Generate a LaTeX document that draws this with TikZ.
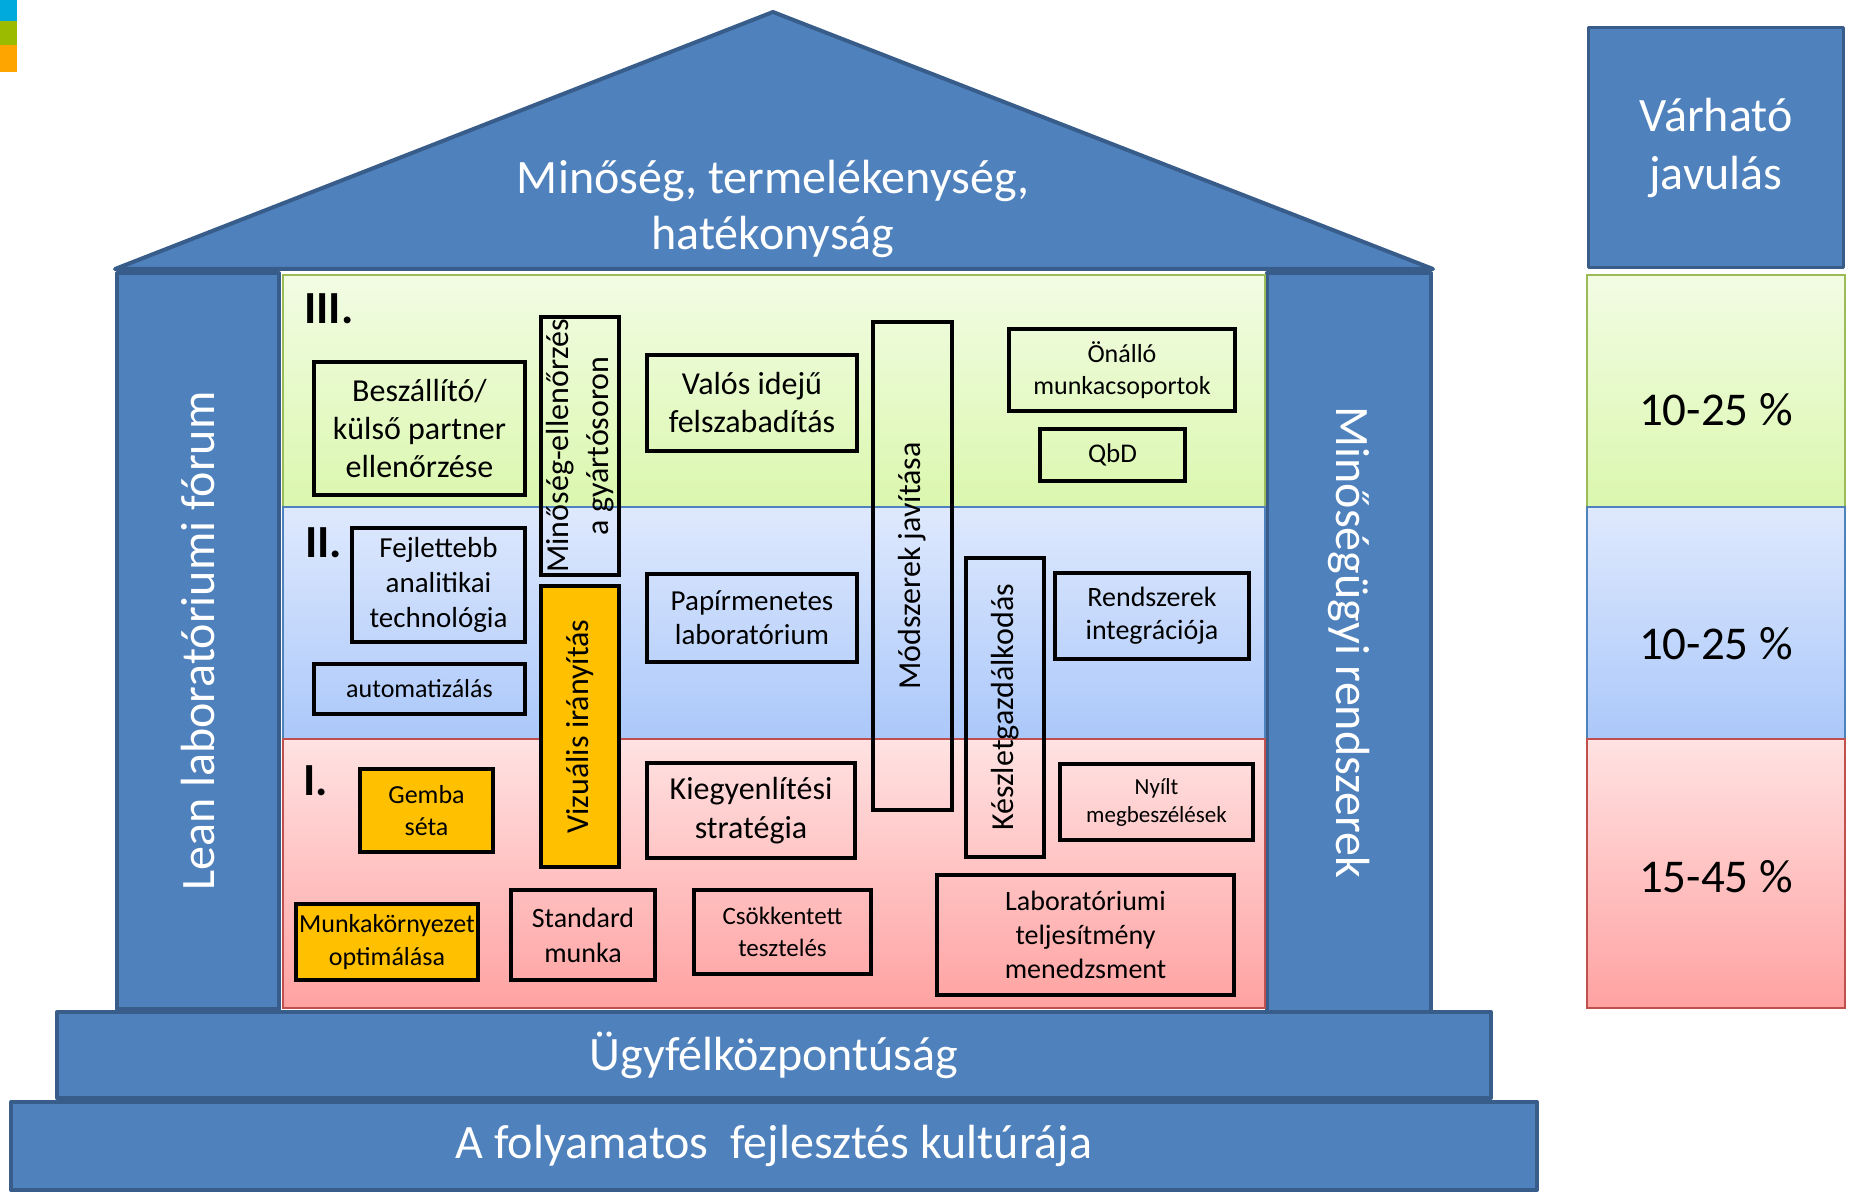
\documentclass[tikz,border=0pt]{standalone}
\usepackage{fontspec}
\setmainfont{Carlito}

\definecolor{houseblue}{HTML}{4F81BD}
\definecolor{houseedge}{HTML}{385D8A}
\definecolor{gtop}{HTML}{F2FCE4}
\definecolor{gbot}{HTML}{DBF7AE}
\definecolor{gedge}{HTML}{9BBB59}
\definecolor{btop}{HTML}{DFE9FD}
\definecolor{bbot}{HTML}{ABC8FA}
\definecolor{bedge}{HTML}{4F81BD}
\definecolor{rtop}{HTML}{FFE2E2}
\definecolor{rbot}{HTML}{FFA2A2}
\definecolor{redge}{HTML}{C0504D}
\definecolor{boxorange}{HTML}{FFC000}
\definecolor{sqblue}{HTML}{00AADD}
\definecolor{sqgreen}{HTML}{9BBB00}
\definecolor{sqorange}{HTML}{FFA500}

\newcommand{\fsz}[2]{\fontsize{#1}{#2}\selectfont}

\begin{document}
\begin{tikzpicture}[
    x=0.5pt, y=-0.5pt,
    house/.style={fill=houseblue,draw=houseedge,line width=2pt,line join=round},
    house text/.style={house,text=white,inner sep=0pt,align=center},
    green band/.style={top color=gtop,bottom color=gbot,draw=gedge,line width=0.8pt},
    blue band/.style={top color=btop,bottom color=bbot,draw=bedge,line width=0.8pt},
    red band/.style={top color=rtop,bottom color=rbot,draw=redge,line width=0.8pt},
    item/.style={draw=black,line width=2pt,inner sep=0pt,align=center},
    orange item/.style={item,fill=boxorange},
    level/.style={anchor=west,inner sep=0pt,font=\bfseries\fsz{23}{27}},
    gain/.style={inner sep=0pt,font=\fsz{23.5}{28}}
]
\useasboundingbox (0,0) rectangle (1849,1192);

% Szines negyzetek a bal felso sarokban
\fill[sqblue] (0,0) rectangle (17,21);
\fill[sqgreen] (0,21) rectangle (17,45);
\fill[sqorange] (0,45) rectangle (17,72);

% Lepcsok (alap)
\node[house text,minimum width=717pt,minimum height=43pt,font=\fsz{24}{28}]
    (ugyfel) at (774,1055) {Ügyfélközpontúság};
\node[house text,minimum width=763pt,minimum height=44pt,font=\fsz{24}{28}]
    (kultura) at (774,1146) {A folyamatos\ \ fejlesztés kultúrája};

% Oszlopok
\node[house text,rotate=90,minimum width=368pt,minimum height=81pt,font=\fsz{24}{28}]
    (leanforum) at (198,641) {Lean laboratóriumi fórum};
\node[house text,rotate=-90,minimum width=369.5pt,minimum height=82pt,font=\fsz{24}{28}]
    (minrendszer) at (1349,642.5) {Minőségügyi rendszerek};

% Teto
\draw[house] (115,269) -- (773,12) -- (1433,269) -- cycle;
\node[text=white,align=center,font=\fsz{24}{28}] (teto) at (773,209)
    {Minőség, termelékenység,\\hatékonyság};

% Szintek (savok)
\draw[green band] (283,275) rectangle (1265,507);
\draw[blue band] (283,507) rectangle (1265,739);
\draw[red band] (283,739) rectangle (1265,1008);

\node[level] (lvlIII) at (304,309) {III.};
\node[level] (lvlII) at (305,543) {II.};
\node[level] (lvlI) at (303,781) {I.};

% III. szint
\node[item,minimum width=105.5pt,minimum height=66.5pt,font=\fsz{16}{19}]
    (beszallito) at (419.5,428.5) {Beszállító/\\külső partner\\ellenőrzése};
\node[item,rotate=90,minimum width=129pt,minimum height=39pt,font=\fsz{16}{20}]
    (minell) at (580,446) {Minőség-ellenőrzés\\a gyártósoron};
\node[item,minimum width=105pt,minimum height=48pt,font=\fsz{16}{19}]
    (valos) at (752,403) {Valós idejű\\felszabadítás};
\node[item,rotate=90,minimum width=244pt,minimum height=39.5pt,font=\fsz{16}{19}]
    (modszerek) at (912.5,566) {Módszerek javítása};
\node[item,minimum width=113pt,minimum height=41pt,font=\fsz{13}{16}]
    (onallo) at (1122,370) {Önálló\\munkacsoportok};
\node[item,minimum width=72.5pt,minimum height=26pt,font=\fsz{13.5}{16}]
    (qbd) at (1112.5,455) {QbD};

% II. szint
\node[item,minimum width=86.5pt,minimum height=57pt,font=\fsz{14.5}{17.5}]
    (fejlettebb) at (438.5,585) {Fejlettebb\\analitikai\\technológia};
\node[item,minimum width=105.5pt,minimum height=25pt,font=\fsz{13}{16}]
    (automat) at (419.5,689) {automatizálás};
\node[orange item,rotate=90,minimum width=140.5pt,minimum height=39pt,font=\fsz{16}{19}]
    (vizualis) at (580,726.5) {Vizuális irányítás};
\node[item,minimum width=105pt,minimum height=44pt,font=\fsz{14.5}{17}]
    (papir) at (752,618) {Papírmenetes\\laboratórium};
\node[item,rotate=90,minimum width=149.5pt,minimum height=39pt,font=\fsz{16}{19}]
    (keszlet) at (1005,707.5) {Készletgazdálkodás};
\node[item,minimum width=97pt,minimum height=43pt,font=\fsz{14}{16.5}]
    (rendszerek) at (1152,616) {Rendszerek\\integrációja};

% I. szint
\node[orange item,minimum width=66.5pt,minimum height=41.5pt,font=\fsz{13}{16}]
    (gemba) at (426.5,810.5) {Gemba\\séta};
\node[item,minimum width=104pt,minimum height=47.5pt,font=\fsz{16}{19.5}]
    (kiegy) at (751,810.5) {Kiegyenlítési\\stratégia};
\node[item,minimum width=96.5pt,minimum height=38pt,font=\fsz{11.5}{14}]
    (nyilt) at (1156.5,802) {Nyílt\\megbeszélések};
\node[orange item,minimum width=91pt,minimum height=38pt,font=\fsz{13}{16.5}]
    (munkakorny) at (387,942) {Munkakörnyezet\\optimálása};
\node[item,minimum width=72pt,minimum height=45pt,font=\fsz{14}{17.5}]
    (standard) at (583,935) {Standard\\munka};
\node[item,minimum width=88.5pt,minimum height=42pt,font=\fsz{12.5}{16}]
    (csokk) at (782.5,932) {Csökkentett\\tesztelés};
\node[item,minimum width=148.5pt,minimum height=60pt,font=\fsz{14}{17}]
    (labor) at (1085.5,935) {Laboratóriumi\\teljesítmény\\menedzsment};

% Varhato javulas oszlop
\node[house text,line width=1.5pt,minimum width=127.5pt,minimum height=120pt,font=\fsz{24}{29}]
    (varhato) at (1716,147.5) {Várható\\javulás};
\draw[green band] (1587,275) rectangle (1845,507);
\draw[blue band] (1587,507) rectangle (1845,739);
\draw[red band] (1587,739) rectangle (1845,1008);
\node[gain] (gainIII) at (1716,410) {10-25 \%};
\node[gain] (gainII) at (1716,644) {10-25 \%};
\node[gain] (gainI) at (1716,877) {15-45 \%};

\end{tikzpicture}
\end{document}
